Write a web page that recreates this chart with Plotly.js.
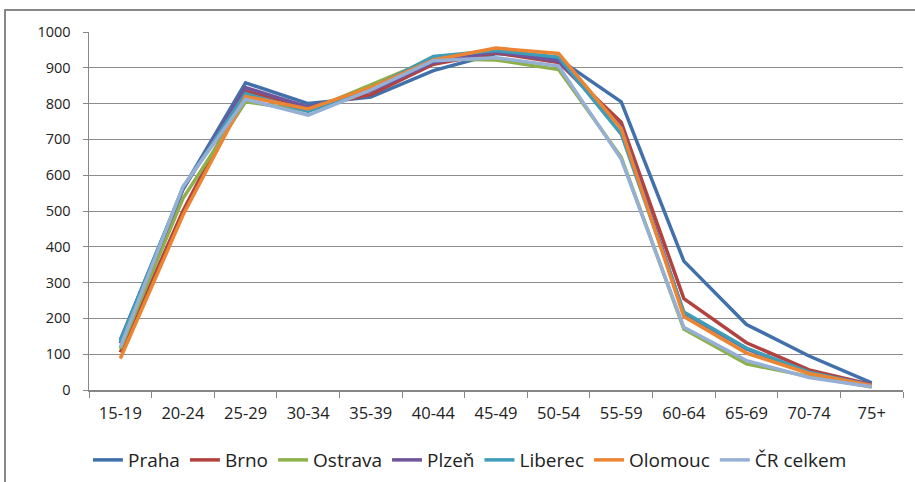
<!DOCTYPE html>
<html>
<head>
<meta charset="utf-8">
<script src="https://cdn.plot.ly/plotly-3.0.1.min.js"></script>
<style>
  html, body { margin: 0; padding: 0; background: #fff; overflow: hidden; }
  #wrap { position: relative; width: 915px; height: 482px; }
  #chart { position: absolute; left: 0; top: 0; width: 915px; height: 482px; }
  #frame { position: absolute; left: 4px; top: 9px; width: 930px; height: 500px;
           border: 2px solid #878787; box-sizing: border-box; pointer-events: none; }
</style>
</head>
<body>
<div id="wrap">
  <div id="chart"></div>
  <div id="frame"></div>
</div>
<script>
const categories = ["15-19","20-24","25-29","30-34","35-39","40-44","45-49","50-54","55-59","60-64","65-69","70-74","75+"];
const seriesNames = ["Praha","Brno","Ostrava","Plzeň","Liberec","Olomouc","ČR celkem"];
const praha    = [140, 562, 858, 800, 818, 892, 940, 925, 805, 360, 183, 95, 20];
const brno     = [105, 500, 835, 790, 825, 910, 942, 915, 748, 255, 132, 56, 15];
const ostrava  = [115, 535, 805, 780, 852, 925, 922, 895, 650, 170, 73, 38, 8];
const plzen    = [130, 560, 845, 790, 835, 915, 945, 918, 735, 215, 115, 48, 15];
const liberec  = [135, 565, 828, 778, 842, 932, 948, 930, 715, 218, 117, 50, 12];
const olomouc  = [88, 488, 820, 785, 845, 922, 955, 940, 730, 205, 103, 46, 13];
const crCelkem = [120, 568, 812, 768, 838, 920, 928, 905, 645, 175, 82, 35, 9];
const values = [praha, brno, ostrava, plzen, liberec, olomouc, crCelkem];
const colors = ["#4270AB", "#B2423F", "#8DB04A", "#71559B", "#3E9DB9", "#EB8533", "#95AFD5"];

const traces = seriesNames.map((n, i) => ({
  type: "scatter", mode: "lines", name: n,
  x: categories, y: values[i],
  line: { color: colors[i], width: 3.5 }
}));

const layout = {
  width: 915, height: 482,
  margin: { l: 89, r: 12, t: 32, b: 92, autoexpand: false },
  paper_bgcolor: "#fff", plot_bgcolor: "#fff",
  showlegend: true,
  font: { family: "Open Sans, DejaVu Sans, sans-serif", size: 14, color: "#222" },
  xaxis: {
    type: "category", range: [-0.5, 12.5], showgrid: false, showline: true, linecolor: "#878787", linewidth: 1.5,
    ticks: "outside", tickson: "boundaries", ticklen: 6, tickcolor: "#878787",
    tickfont: { family: "Open Sans, sans-serif", size: 16.5, color: "#222" },
    tickangle: 0, automargin: false,
    ticklabelstandoff: 8, zeroline: false
  },
  yaxis: {
    range: [0, 1000], dtick: 100, showgrid: true, gridcolor: "#8c8c8c", gridwidth: 1,
    showline: true, linecolor: "#878787", linewidth: 1.5, automargin: false,
    ticks: "outside", ticklen: 5, tickcolor: "#878787", zeroline: false,
    tickfont: { family: "Open Sans, sans-serif", size: 14.5, color: "#222" },
    ticklabelstandoff: 9
  },
  legend: {
    orientation: "h", x: 0.468, xanchor: "center",
    yref: "container", y: 0.085, yanchor: "top",
    font: { family: "Open Sans, sans-serif", size: 19, color: "#222" },
    itemwidth: 30, tracegroupgap: 0
  }
};

Plotly.newPlot("chart", traces, layout, { displayModeBar: false, staticPlot: true });
</script>
</body>
</html>
